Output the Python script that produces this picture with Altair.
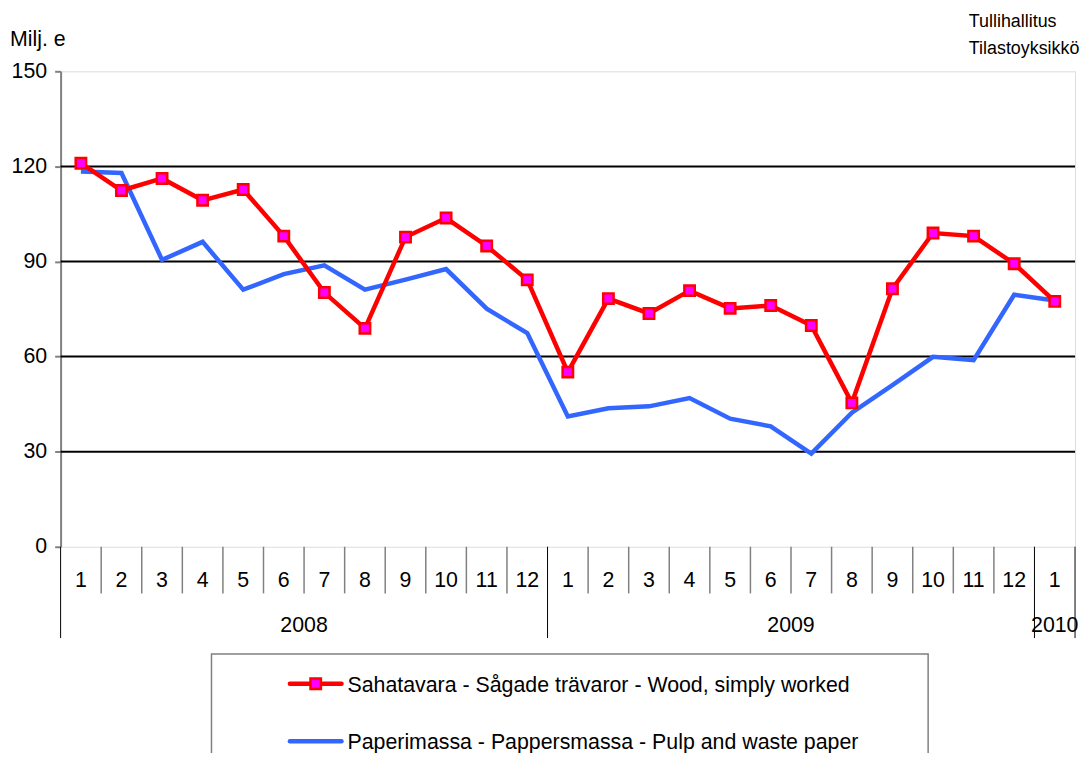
import altair as alt
import pandas as pd

# ---- data ----
MONTHS = ["1", "2", "3", "4", "5", "6", "7", "8", "9", "10", "11", "12",
          "1", "2", "3", "4", "5", "6", "7", "8", "9", "10", "11", "12",
          "1"]
YEARS = ["2008", "2009", "2010"]
YEAR_MONTHS = [12, 12, 1]          # number of months under each year label

SERIES = ["Sahatavara - Sågade trävaror - Wood, simply worked",
          "Paperimassa - Pappersmassa - Pulp and waste paper"]

WOOD = [121.0, 112.4, 116.2, 109.3, 112.7, 98.0, 80.2, 68.9, 97.7, 103.7, 94.9, 84.2,
        55.1, 78.3, 73.6, 80.8, 75.2, 76.1, 69.8, 45.4, 81.4, 99.0, 98.0, 89.3,
        77.4]
PULP = [118.4, 117.9, 90.5, 96.2, 81.1, 86.0, 88.8, 81.1, 84.3, 87.6, 75.1, 67.4,
        41.1, 43.7, 44.3, 46.9, 40.4, 38.0, 29.4, 42.3, 51.0, 59.9, 58.9, 79.5,
        77.7]

Y_TICKS = [0, 30, 60, 90, 120, 150]
GRID = [30, 60, 90, 120]

UNIT = "Milj. e"
SOURCE = ["Tullihallitus", "Tilastoyksikkö"]

FONT = "Liberation Sans"
FS = 21.5
RED = "#FF0000"
MAGENTA = "#FF00FF"
BLUE = "#3366FF"
GRAY = "#808080"

W, H = 1022, 479
N = len(MONTHS)

# ---- tables ----
rows = []
for i, v in enumerate(WOOD):
    rows.append({"series": SERIES[0], "pos": i + 0.5, "value": v})
for i, v in enumerate(PULP):
    rows.append({"series": SERIES[1], "pos": i + 0.5, "value": v})
lines = pd.DataFrame(rows)

months_df = pd.DataFrame({"pos": [i + 0.5 for i in range(N)], "label": MONTHS})

starts = [0]
for c in YEAR_MONTHS:
    starts.append(starts[-1] + c)
years_df = pd.DataFrame({
    "pos": [(starts[k] + starts[k + 1]) / 2 for k in range(len(YEARS))],
    "label": YEARS,
})
long_sep = pd.DataFrame({"pos": starts})
short_sep = pd.DataFrame({"pos": [i for i in range(1, N) if i not in starts]})

grid_df = pd.DataFrame({"value": GRID})

xs = alt.Scale(domain=[0, N], nice=False, zero=False)
ys = alt.Scale(domain=[0, 150], nice=False)
yaxis = alt.Axis(values=Y_TICKS, title=None, grid=False,
                 labelFont=FONT, labelFontSize=FS, labelColor="black",
                 labelPadding=8, tickColor=GRAY, tickSize=6, tickWidth=2,
                 domainColor=GRAY, domainWidth=2)

base_x = alt.X("pos:Q", scale=xs, axis=None)
yval = alt.Y("value:Q", scale=ys, axis=yaxis)

grid = alt.Chart(grid_df).mark_rule(color="black", strokeWidth=2).encode(y=yval)

pulp_line = alt.Chart(lines).transform_filter(alt.datum.series == SERIES[1]).mark_line(
    strokeWidth=4.5, color=BLUE).encode(x=base_x, y=yval)
wood_line = alt.Chart(lines).transform_filter(alt.datum.series == SERIES[0]).mark_line(
    strokeWidth=4.5, color=RED).encode(x=base_x, y=yval)
wood_pts = alt.Chart(lines).transform_filter(alt.datum.series == SERIES[0]).mark_square(
    size=110, fill=MAGENTA, stroke=RED, strokeWidth=2.5, opacity=1).encode(
    x=base_x, y=yval)

month_txt = alt.Chart(months_df).mark_text(
    font=FONT, fontSize=FS, color="black", baseline="middle", align="center").encode(
    x=base_x, y=alt.value(H + 35), text="label:N")
year_txt = alt.Chart(years_df).mark_text(
    font=FONT, fontSize=FS, color="black", baseline="middle", align="center").encode(
    x=base_x, y=alt.value(H + 80), text="label:N")

short_rules = alt.Chart(short_sep).mark_rule(color=GRAY, strokeWidth=1.5).encode(
    x=base_x, y=alt.value(H), y2=alt.value(H + 47))
long_rules = alt.Chart(long_sep).mark_rule(color="black", strokeWidth=1).encode(
    x=base_x, y=alt.value(H), y2=alt.value(H + 92))


def label(text, x, y, size, align="left"):
    return alt.Chart(pd.DataFrame({"t": [text]})).mark_text(
        font=FONT, fontSize=size, color="black", align=align, baseline="middle").encode(
        x=alt.value(x), y=alt.value(y), text="t:N")


unit_txt = label(UNIT, -51, -31, FS)
src1 = label(SOURCE[0], 915, -50, 18)
src2 = label(SOURCE[1], 915, -22, 18)

# legend (drawn by hand)
one = pd.DataFrame({"a": [0]})
leg_box = alt.Chart(one).mark_rect(
    fill="white", stroke=GRAY, strokeWidth=1.5).encode(
    x=alt.value(152), x2=alt.value(874), y=alt.value(587), y2=alt.value(720))
leg_wood_line = alt.Chart(one).mark_rule(
    color=RED, strokeWidth=4.5, strokeCap="round").encode(
    x=alt.value(231), x2=alt.value(283), y=alt.value(617))
leg_wood_pt = alt.Chart(one).mark_square(
    size=110, fill=MAGENTA, stroke=RED, strokeWidth=2.5, opacity=1).encode(
    x=alt.value(257), y=alt.value(617))
leg_pulp_line = alt.Chart(one).mark_rule(
    color=BLUE, strokeWidth=4.5, strokeCap="round").encode(
    x=alt.value(231), x2=alt.value(283), y=alt.value(675))
leg1 = label(SERIES[0], 289, 619, FS)
leg2 = label(SERIES[1], 289, 677, FS)

chart = alt.layer(
    grid, short_rules, long_rules, month_txt, year_txt,
    pulp_line, wood_line, wood_pts,
    unit_txt, src1, src2,
    leg_box, leg_wood_line, leg_wood_pt, leg_pulp_line, leg1, leg2,
).properties(
    width=W, height=H,
    autosize=alt.AutoSizeParams(type="none"),
    padding={"left": 53, "top": 61, "right": 6, "bottom": 205},
).configure_view(stroke=GRAY, strokeWidth=2).configure(background="white")

chart.save("out.html", embed_options={"renderer": "svg", "actions": False})
